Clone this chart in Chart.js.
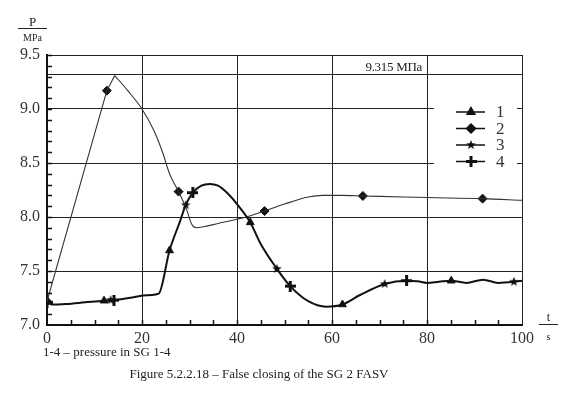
<!DOCTYPE html>
<html>
<head>
<meta charset="utf-8">
<script src="https://cdn.jsdelivr.net/npm/chart.js@4/dist/chart.umd.min.js"></script>
<style>
  body { margin: 0; background: #fff; }
  #wrap { position: relative; width: 575px; height: 395px; font-family: "Liberation Serif", "DejaVu Serif", serif; color: #222; }
  canvas { position: absolute; left: 0; top: 0; }
  .lbl { position: absolute; white-space: nowrap; }
</style>
</head>
<body>
<div id="wrap">
  <canvas id="pressureChart" width="575" height="395"></canvas>
  <div class="lbl" style="left:18px; top:15px; width:29px; text-align:center; font-size:13px; line-height:13px; border-bottom:1px solid #222;">P</div>
  <div class="lbl" style="left:18px; top:32px; width:29px; text-align:center; font-size:10px; line-height:11px;">MPa</div>
  <div class="lbl" style="left:539px; top:311px; width:19px; text-align:center; font-size:12px; line-height:13px; border-bottom:1px solid #222;">t</div>
  <div class="lbl" style="left:539px; top:331px; width:19px; text-align:center; font-size:10px; line-height:11px;">s</div>
  <div class="lbl" style="left:340px; top:59px; width:82px; text-align:right; font-size:13px; line-height:15px; letter-spacing:-0.3px;">9.315 МПа</div>
  <div class="lbl" style="left:43px; top:344px; font-size:13px; line-height:15px;">1-4 – pressure in SG 1-4</div>
  <div class="lbl" style="left:0; top:366px; width:518px; text-align:center; font-size:13px; line-height:15px;">Figure 5.2.2.18 – False closing of the SG 2 FASV</div>
</div>
<script>
// time axis (s) and tick values
const xTicks = [0, 20, 40, 60, 80, 100];
const yTicks = [7.0, 7.5, 8.0, 8.5, 9.0, 9.315, 9.5];
const refLevel = 9.315;

// curve of SG 1, 3, 4 (drawn as one bold line)
const timeMain = [0, 1, 4, 8, 12, 14, 18, 21, 23.5, 25.8, 28, 29.2, 30.7, 32.5, 34.25, 36, 38, 40, 42.8, 45, 48.4, 51.2, 55, 58.8, 62.2, 66, 71.1, 75.7, 78, 80, 82.5, 85.1, 88.3, 91.8, 95, 98.3, 100];
const pressMain = [7.21, 7.19, 7.195, 7.21, 7.225, 7.23, 7.255, 7.275, 7.29, 7.69, 7.96, 8.11, 8.225, 8.29, 8.306, 8.29, 8.22, 8.12, 7.95, 7.75, 7.52, 7.36, 7.22, 7.17, 7.19, 7.28, 7.38, 7.41, 7.405, 7.39, 7.40, 7.41, 7.39, 7.42, 7.39, 7.40, 7.41];

// curve of SG 2
const timeSG2 = [0, 12.6, 14.25, 17, 20, 22.5, 24.4, 25.8, 27.7, 29.3, 30.5, 31.4, 33, 36, 40, 42.7, 45.8, 50, 55, 58, 62, 66.5, 75, 80, 91.7, 100];
const pressSG2 = [7.22, 9.17, 9.31, 9.17, 9.0, 8.8, 8.59, 8.40, 8.235, 8.08, 7.93, 7.90, 7.91, 7.94, 7.98, 8.01, 8.055, 8.12, 8.185, 8.2, 8.2, 8.195, 8.185, 8.18, 8.17, 8.155];

// marker positions for each series
const mark1T = [12, 25.8, 42.8, 62.2, 85.1];
const mark1P = [7.225, 7.69, 7.95, 7.19, 7.41];
const mark2T = [0, 12.6, 27.7, 45.8, 66.5, 91.7];
const mark2P = [7.22, 9.17, 8.235, 8.055, 8.195, 8.17];
const mark3T = [13.4, 29.2, 48.4, 71.1, 98.3];
const mark3P = [7.23, 8.11, 7.52, 7.38, 7.40];
const mark4T = [0, 14.1, 30.7, 51.2, 75.7];
const mark4P = [7.21, 7.23, 8.225, 7.36, 7.41];

const seriesLabels = ['1', '2', '3', '4'];

function toPoints(xs, ys) {
  return xs.map((x, i) => ({ x: x, y: ys[i] }));
}

// SG 2 has a sharp peak: straight rise, smooth fall
const sg2Points = toPoints(timeSG2, pressSG2);
const sg2Peak = pressSG2.indexOf(Math.max(...pressSG2));

// small custom marker images
function makeStar(r) {
  const c = document.createElement('canvas');
  c.width = c.height = 2 * r + 2;
  const g = c.getContext('2d');
  g.fillStyle = '#111';
  g.beginPath();
  for (let i = 0; i < 10; i++) {
    const rr = i % 2 ? r * 0.42 : r;
    const a = -Math.PI / 2 + i * Math.PI / 5;
    g.lineTo(r + 1 + rr * Math.cos(a), r + 1 + rr * Math.sin(a));
  }
  g.closePath();
  g.fill();
  return c;
}

function makeCross(r, w) {
  const c = document.createElement('canvas');
  c.width = c.height = 2 * r + 1;
  const g = c.getContext('2d');
  g.fillStyle = '#111';
  g.fillRect(r - w / 2 + 0.5, 0, w, 2 * r + 1);
  g.fillRect(0, r - w / 2 + 0.5, 2 * r + 1, w);
  return c;
}

const starImg = makeStar(5);
const crossImg = makeCross(5, 3);

// minor ticks pointing into the plot
const minorTicks = {
  id: 'minorTicks',
  afterDraw(chart) {
    const ctx = chart.ctx, a = chart.chartArea;
    const xs = chart.scales.x, ys = chart.scales.y;
    ctx.save();
    ctx.strokeStyle = '#111';
    ctx.lineWidth = 1.5;
    ctx.beginPath();
    for (let v = 7.1; v < 9.5; v += 0.1) {
      const y = Math.round(ys.getPixelForValue(v)) + 0.5;
      ctx.moveTo(a.left, y);
      ctx.lineTo(a.left + 5, y);
    }
    for (let t = 5; t < 100; t += 5) {
      const x = Math.round(xs.getPixelForValue(t)) + 0.5;
      ctx.moveTo(x, a.bottom);
      ctx.lineTo(x, a.bottom - 5);
    }
    ctx.stroke();
    ctx.restore();
  }
};

// legend: short line with the marker in the middle, number on the right
const lineLegend = {
  id: 'lineLegend',
  afterDraw(chart) {
    const ctx = chart.ctx, a = chart.chartArea;
    const x0 = a.right - 88, y0 = a.top + 45;
    ctx.save();
    ctx.fillStyle = '#fff';
    ctx.fillRect(x0, y0, 83, 72);
    const markerSets = chart.data.datasets.filter(d => d.isMarker);
    markerSets.forEach((ds, i) => {
      const y = y0 + 12 + i * 16.5;
      ctx.strokeStyle = '#111';
      ctx.lineWidth = 1.5;
      ctx.beginPath();
      ctx.moveTo(a.right - 66, y);
      ctx.lineTo(a.right - 37, y);
      ctx.stroke();
      ctx.fillStyle = '#111';
      Chart.helpers.drawPoint(ctx, {
        pointStyle: ds.pointStyle,
        radius: ds.pointRadius,
        borderWidth: 1,
        rotation: 0
      }, a.right - 51, y);
      ctx.fillStyle = '#333';
      ctx.font = '17px "Liberation Serif", serif';
      ctx.textBaseline = 'middle';
      ctx.fillText(ds.label, a.right - 26, y + 1);
    });
    ctx.restore();
  }
};

const ctx = document.getElementById('pressureChart').getContext('2d');
const pressureChart = new Chart(ctx, {
  type: 'line',
  data: {
    datasets: [{
      label: 'main',
      data: toPoints(timeMain, pressMain),
      borderColor: '#111',
      borderWidth: 2,
      pointRadius: 0,
      cubicInterpolationMode: 'monotone'
    }, {
      label: 'sg2 rise',
      data: sg2Points.slice(0, sg2Peak + 1),
      borderColor: '#333',
      borderWidth: 1.1,
      pointRadius: 0,
      tension: 0
    }, {
      label: 'sg2 fall',
      data: sg2Points.slice(sg2Peak),
      borderColor: '#333',
      borderWidth: 1.1,
      pointRadius: 0,
      cubicInterpolationMode: 'monotone'
    }, {
      label: seriesLabels[0],
      isMarker: true,
      data: toPoints(mark1T, mark1P),
      showLine: false,
      pointStyle: 'triangle',
      pointRadius: 4.5,
      backgroundColor: '#111',
      borderColor: '#111',
      borderWidth: 1
    }, {
      label: seriesLabels[1],
      isMarker: true,
      data: toPoints(mark2T, mark2P),
      showLine: false,
      pointStyle: 'rectRot',
      pointRadius: 4.5,
      backgroundColor: '#111',
      borderColor: '#111',
      borderWidth: 1
    }, {
      label: seriesLabels[2],
      isMarker: true,
      data: toPoints(mark3T, mark3P),
      showLine: false,
      pointStyle: starImg,
      pointRadius: 5
    }, {
      label: seriesLabels[3],
      isMarker: true,
      data: toPoints(mark4T, mark4P),
      showLine: false,
      pointStyle: crossImg,
      pointRadius: 5
    }]
  },
  options: {
    responsive: false,
    animation: false,
    devicePixelRatio: 1,
    layout: {
      padding: { top: 55, right: 53, left: 0, bottom: 0 }
    },
    scales: {
      x: {
        type: 'linear',
        min: 0,
        max: 100,
        afterBuildTicks: function(scale) {
          scale.ticks = xTicks.map(v => ({ value: v }));
        },
        afterFit: function(scale) { scale.height = 70; },
        ticks: {
          padding: 4,
          color: '#333',
          font: { family: '"Liberation Serif", serif', size: 16 },
          maxRotation: 0
        },
        grid: { color: '#222', lineWidth: 1, drawTicks: false },
        border: { display: true, color: '#111', width: 2 }
      },
      y: {
        type: 'linear',
        min: 7,
        max: 9.5,
        afterBuildTicks: function(scale) {
          scale.ticks = yTicks.map(v => ({ value: v }));
        },
        afterFit: function(scale) { scale.width = 47; },
        ticks: {
          padding: 7,
          color: '#333',
          font: { family: '"Liberation Serif", serif', size: 16 },
          callback: function(value) {
            return value === refLevel ? '' : value.toFixed(1);
          }
        },
        grid: { color: '#222', lineWidth: 1, drawTicks: false },
        border: { display: true, color: '#111', width: 2 }
      }
    },
    plugins: {
      legend: { display: false },
      tooltip: { enabled: false }
    }
  },
  plugins: [minorTicks, lineLegend]
});
</script>
</body>
</html>
